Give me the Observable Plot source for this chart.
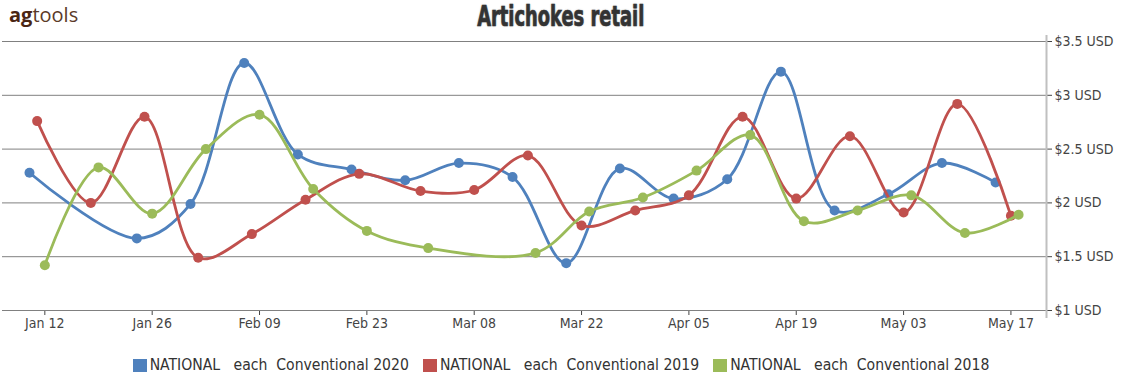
<!DOCTYPE html>
<html>
<head>
<meta charset="utf-8">
<script src="https://cdn.jsdelivr.net/npm/d3@7"></script>
<script src="https://cdn.jsdelivr.net/npm/@observablehq/plot@0.6"></script>
<style>
  body { margin: 0; background: #fff; }
  #wrap { position: relative; width: 1122px; height: 375px; overflow: hidden; font-family: "DejaVu Sans Condensed", "DejaVu Sans", sans-serif; }
  #logo { position: absolute; left: 9px; top: 0px; font-family: "Open Sans", sans-serif; font-size: 20px; line-height: 30px; color: #5b3a28; }
  #logo b { font-weight: 700; color: #4a2513; }
  #titlebox { position: absolute; left: 0; top: 0px; width: 1122px; text-align: center; }
  #title { display: inline-block; transform: scaleX(0.71); transform-origin: 50% 50%; font-family: "DejaVu Sans Condensed", "DejaVu Sans", sans-serif; font-weight: bold; font-size: 28px; line-height: 34px; color: #333; -webkit-text-stroke: 0.6px #333; text-shadow: 0 0 2px #999; }
  #chart { position: absolute; left: 0; top: 35px; }
  #legend { position: absolute; left: 0; top: 356px; width: 1122px; display: flex; justify-content: center; align-items: center; font-size: 15.6px; color: #333; }
  .item { display: flex; align-items: center; margin: 0 7px; }
  .sw { display: inline-block; width: 14px; height: 13px; margin-right: 3px; }
  .lab { white-space: pre; }
</style>
</head>
<body>
<div id="wrap">
  <div id="logo"><b>ag</b>tools</div>
  <div id="titlebox"><div id="title">Artichokes retail</div></div>
  <div id="chart"></div>
  <div id="legend"></div>
</div>
<script>
// Report weeks (month-day) for each season; plotted on the 2020 calendar
const weeks2020 = ["01-10","01-17","01-24","01-31","02-07","02-14","02-21","02-28","03-06","03-13","03-20","03-27","04-03","04-10","04-17","04-24","05-01","05-08","05-15"];
const weeks2019 = ["01-11","01-18","01-25","02-01","02-08","02-15","02-22","03-01","03-08","03-15","03-22","03-29","04-05","04-12","04-19","04-26","05-03","05-10","05-17"];
const weeks2018 = ["01-12","01-19","01-26","02-02","02-09","02-16","02-23","03-02","03-09","03-16","03-23","03-30","04-06","04-13","04-20","04-27","05-04","05-11","05-18"];

// Retail price, USD each
const values2020 = [2.28, null, 1.67, 1.99, 3.30, 2.45, 2.31, 2.21, 2.37, 2.24, 1.44, 2.32, 2.04, 2.22, 3.22, 1.93, 2.08, 2.37, 2.19];
const values2019 = [2.76, 2.00, 2.80, 1.49, 1.71, 2.03, 2.27, 2.11, 2.12, 2.44, 1.79, 1.93, 2.07, 2.80, 2.04, 2.62, 1.91, 2.92, 1.88];
const values2018 = [1.42, 2.33, 1.90, 2.50, 2.82, 2.13, 1.74, 1.58, null, 1.535, 1.92, 2.05, 2.30, 2.63, 1.83, 1.93, 2.07, 1.72, 1.89];

const seriesNames = ["NATIONAL   each  Conventional 2020", "NATIONAL   each  Conventional 2019", "NATIONAL   each  Conventional 2018"];
const seriesColors = ["#4f81bd", "#c0504d", "#9bbb59"];

const xTickLabels = ["01-12","01-26","02-09","02-23","03-08","03-22","04-05","04-19","05-03","05-17"];
const yTicks = [1, 1.5, 2, 2.5, 3, 3.5];

const toDate = md => new Date(`2020-${md}T00:00:00Z`);
const xTicks = xTickLabels.map(toDate);
const xDomain = [new Date("2020-01-06T11:30:00Z"), new Date("2020-05-21T15:20:00Z")];

const seriesWeeks = [weeks2020, weeks2019, weeks2018];
const seriesValues = [values2020, values2019, values2018];

const seriesMarks = seriesNames.flatMap((name, i) => {
  const rows = seriesWeeks[i]
    .map((md, j) => ({date: toDate(md), value: seriesValues[i][j], series: name}))
    .filter(d => d.value != null);
  return [
    Plot.line(rows, {x: "date", y: "value", stroke: seriesColors[i], strokeWidth: 2.8, curve: "catmull-rom"}),
    Plot.dot(rows, {x: "date", y: "value", fill: seriesColors[i], r: 5})
  ];
});

const chart = Plot.plot({
  width: 1122,
  height: 300,
  marginTop: 6,
  marginBottom: 25,
  marginLeft: 2,
  marginRight: 76,
  style: {fontFamily: "'DejaVu Sans Condensed', 'DejaVu Sans', sans-serif", fontSize: "14px", color: "#444", background: "transparent", overflow: "visible"},
  x: {type: "utc", domain: xDomain, ticks: xTicks, tickFormat: d3.utcFormat("%b %d"), tickSize: 5, tickPadding: 3, label: null},
  y: {domain: [1, 3.5], ticks: yTicks, axis: "right", tickFormat: d => `$${d} USD`, tickSize: 5, tickPadding: 3, label: null},
  marks: [
    Plot.ruleY(yTicks, {stroke: "#808080", strokeWidth: 1}),
    Plot.ruleX([xDomain[1]], {stroke: "#c0c0c0", strokeWidth: 2, insetTop: -6, insetBottom: -8}),
    ...seriesMarks
  ]
});
document.getElementById("chart").appendChild(chart);

const legend = document.getElementById("legend");
seriesNames.forEach((name, i) => {
  const item = document.createElement("div");
  item.className = "item";
  const sw = document.createElement("span");
  sw.className = "sw";
  sw.style.background = seriesColors[i];
  const lab = document.createElement("span");
  lab.className = "lab";
  lab.textContent = name;
  item.appendChild(sw);
  item.appendChild(lab);
  legend.appendChild(item);
});
</script>
</body>
</html>
